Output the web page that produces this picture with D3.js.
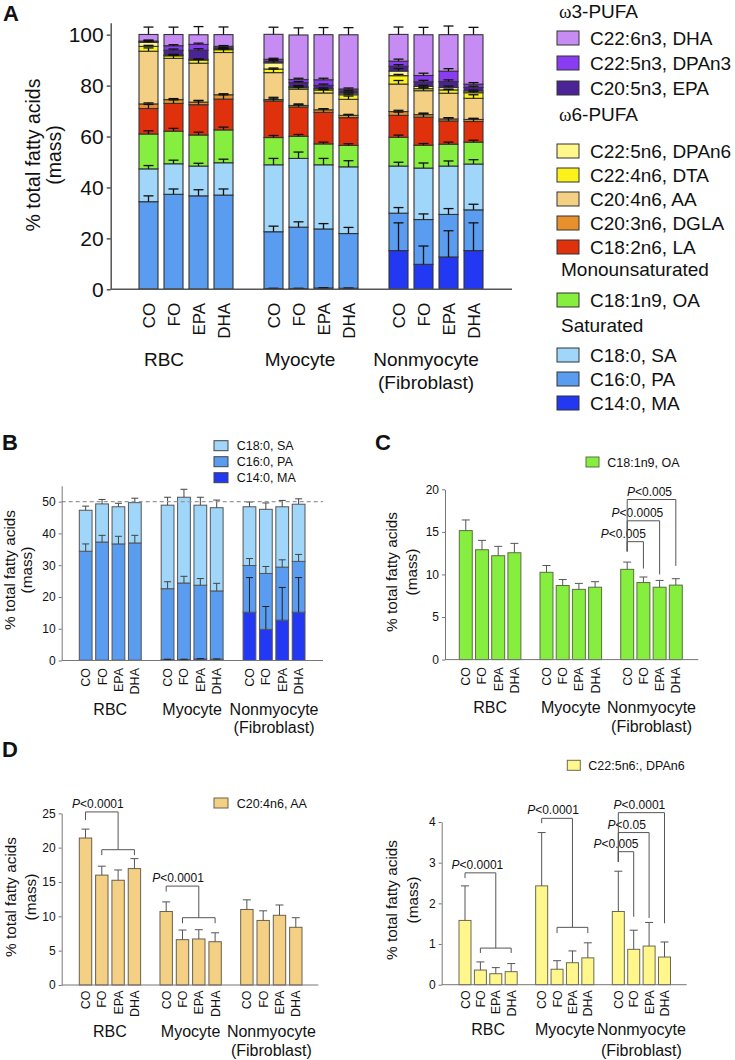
<!DOCTYPE html>
<html><head><meta charset="utf-8">
<script src="https://cdn.jsdelivr.net/npm/d3@7"></script>
<style>body{margin:0;background:#fff} svg{display:block}</style>
</head><body><svg id="c" width="735" height="1060"></svg>
<script>
// ---------------- DATA ----------------
const groups = ["RBC", "Myocyte", "Nonmyocyte"];
const groupLine2 = ["", "", "(Fibroblast)"];
const diets = ["CO", "FO", "EPA", "DHA"];
// 12 bars: RBC CO,FO,EPA,DHA | Myocyte CO,FO,EPA,DHA | Nonmyocyte CO,FO,EPA,DHA
// Saturated (panels A, B)
const MA = [0.1, 0.1, 0.1, 0.1, 0.3, 0.3, 0.5, 0.4, 15.2, 9.8, 12.7, 15.2];
const PA = [34.3, 37.2, 36.6, 36.9, 22.3, 24.1, 23.2, 21.5, 14.7, 17.6, 16.7, 16.0];
const SA = [12.9, 12.0, 11.7, 12.7, 26.3, 27.0, 25.2, 26.2, 18.5, 20.2, 19.0, 18.0];
const errMA = [0, 0, 0, 0, 0.1, 0.1, 0.1, 0.1, 10.9, 7.2, 10.3, 10.9];
const errPA = [2.3, 2.1, 2.4, 2.4, 2.2, 2.1, 2.1, 2.4, 2.2, 2.2, 2.3, 2.2];
const errSA = [1.3, 1.4, 1.1, 1.4, 2.5, 2.5, 2.5, 2.4, 1.5, 2.0, 2.0, 1.7];
// Panel A, remaining fatty acids
const OA_A = [13.7, 12.8, 12.2, 12.9, 10.7, 8.7, 8.2, 8.4, 11.3, 9.0, 8.6, 8.6];
const LA = [10.0, 10.9, 11.9, 12.1, 14.3, 11.5, 12.4, 10.9, 8.6, 11.0, 9.1, 8.1];
const DGLA = [1.8, 1.5, 1.0, 1.7, 0.6, 0.6, 1.0, 0.9, 1.5, 1.0, 0.8, 0.8];
const AA_A = [20.7, 16.2, 15.3, 16.6, 10.6, 6.4, 6.6, 6.3, 10.8, 9.4, 10.1, 8.3];
const DTA = [1.9, 1.0, 1.2, 1.1, 1.4, 0.6, 1.15, 1.8, 3.3, 0.8, 1.3, 2.2];
const EPA = [0.2, 1.8, 3.6, 0.4, 0.6, 1.6, 1.3, 0.8, 1.9, 1.8, 2.3, 1.4];
const DPAn3 = [0.3, 1.8, 2.3, 0.6, 0.8, 1.2, 2.2, 0.8, 2.0, 2.5, 4.1, 1.3];
const DHA = [2.6, 4.4, 3.8, 4.6, 9.8, 17.5, 17.7, 21.3, 10.5, 16.0, 14.35, 19.4];
const errOA_A = [1.25, 1.1, 1.1, 1.1, 0.8, 0.7, 0.7, 0.65, 0.85, 0.65, 0.8, 0.75];
const errLA = [1.6, 1.4, 1.7, 1.7, 1.5, 1.2, 1.4, 1.3, 1.3, 1.4, 1.3, 1.2];
const errDGLA = [0.4, 0.4, 0.5, 0.4, 0.3, 0.3, 0.4, 0.3, 0.5, 0.6, 0.4, 0.4];
const errAA_A = [1.3, 1.3, 1.5, 1.45, 1.4, 1.4, 1.35, 1.3, 1.4, 1.4, 1.5, 1.4];
const errDTA = [0.4, 0.3, 0.3, 0.3, 0.4, 0.2, 0.3, 0.3, 0.5, 0.3, 0.3, 0.4];
const errEPA = [0.2, 0.5, 0.6, 0.2, 0.3, 0.4, 0.5, 0.3, 0.6, 0.6, 0.7, 0.5];
const errDPAn3 = [0.3, 0.4, 0.5, 0.3, 0.4, 0.5, 0.6, 0.4, 0.8, 0.9, 1.0, 0.6];
const errDHA = [2.9, 2.9, 3.2, 3.0, 2.8, 2.8, 2.8, 2.8, 2.9, 2.9, 3.4, 2.9];
// Panel C
const OA = [15.15, 12.9, 12.2, 12.55, 10.25, 8.7, 8.25, 8.5, 10.6, 9.05, 8.5, 8.75];
const errOA = [1.25, 1.1, 1.1, 1.1, 0.8, 0.7, 0.7, 0.65, 0.85, 0.65, 0.8, 0.75];
// Panel D
const AA = [21.4, 16.0, 15.25, 16.95, 10.7, 6.6, 6.7, 6.3, 11.0, 9.4, 10.15, 8.4];
const errAA = [1.3, 1.3, 1.5, 1.45, 1.4, 1.4, 1.35, 1.3, 1.4, 1.4, 1.5, 1.4];
const DPAn6 = [1.58, 0.36, 0.27, 0.32, 2.43, 0.38, 0.54, 0.66, 1.8, 0.87, 0.95, 0.68];
const errDPAn6 = [0.85, 0.2, 0.15, 0.2, 1.31, 0.21, 0.29, 0.37, 0.99, 0.47, 0.58, 0.37];
// tick values
const ticksA = [0, 20, 40, 60, 80, 100];
const ticksB = [0, 10, 20, 30, 40, 50];
const ticksC = [0, 5, 10, 15, 20];
const ticksD1 = [0, 5, 10, 15, 20, 25];
const ticksD2 = [0, 1, 2, 3, 4];
// legend labels
const keysA = ["MA", "PA", "SA", "OA", "LA", "DGLA", "AA", "DTA", "DPAn6", "EPA", "DPAn3", "DHA"];
const labelsA = {DHA: "C22:6n3, DHA", DPAn3: "C22:5n3, DPAn3", EPA: "C20:5n3, EPA", DPAn6: "C22:5n6, DPAn6",
  DTA: "C22:4n6, DTA", AA: "C20:4n6, AA", DGLA: "C20:3n6, DGLA", LA: "C18:2n6, LA", OA: "C18:1n9, OA",
  SA: "C18:0, SA", PA: "C16:0, PA", MA: "C14:0, MA"};
const headers = ["ω3-PUFA", "ω6-PUFA", "Monounsaturated", "Saturated"];
const colors = {DHA: "#c68cf4", DPAn3: "#8a3cf2", EPA: "#4b2396", DPAn6: "#fff78c", DTA: "#fbf21c",
  AA: "#f3d083", DGLA: "#e8912c", LA: "#df310c", OA: "#86ee3e", SA: "#9fd6fa", PA: "#5a9cf0", MA: "#2238f2"};
// p-value brackets (y in data units)
const pC = [
  {g: 2, a: 0, b: 1, yh: 13.85, yl: 12.7, yr: 10.7, p: "0.005", dx: -12},
  {g: 2, a: 0, b: 2, yh: 16.3, yl: 12.7, yr: 10.0, p: "0.0005", dx: -6},
  {g: 2, a: 0, b: 3, yh: 18.8, yl: 12.7, yr: 11.0, p: "0.005", dx: -2}];
const pD1 = [
  {g: 0, yh: 25.2, yl: 24.0, ym: 19.7, yb: 18.9, p: "0.0001", dx: -4},
  {g: 1, yh: 14.4, yl: 13.6, ym: 9.8, yb: 9.0, p: "0.0001", dx: -4.5}];
const pD2grp = [
  {g: 0, yh: 2.75, yl: 2.62, ym: 0.9, yb: 0.78, p: "0.0001", dx: -3},
  {g: 1, yh: 4.09, yl: 3.97, ym: 1.41, yb: 1.27, p: "0.0001", dx: -4}];
const pD2 = [
  {g: 2, a: 0, b: 1, yh: 3.27, yl: 3.02, yr: 1.67, p: "0.005", dx: -10},
  {g: 2, a: 0, b: 2, yh: 3.74, yl: 3.02, yr: 1.64, p: "0.05", dx: -7},
  {g: 2, a: 0, b: 3, yh: 4.23, yl: 3.02, yr: 1.51, p: "0.0001", dx: -2}];

// ---------------- DRAWING ----------------
const FONT = '"Liberation Sans", Arial, Helvetica, sans-serif';
const svg = d3.select("#c");
svg.append("rect").attr("width", 735).attr("height", 1060).attr("fill", "#fff");

function makeX(range, p1, p2) {
  const gx = d3.scaleBand().domain(groups).range(range).paddingInner(p1).paddingOuter(0);
  const dx = d3.scaleBand().domain(diets).range([0, gx.bandwidth()]).paddingInner(p2).paddingOuter(0);
  const xOf = i => gx(groups[Math.floor(i / 4)]) + dx(diets[i % 4]);
  return {gx, dx, xOf, w: dx.bandwidth(), cx: i => xOf(i) + dx.bandwidth() / 2};
}
function yAxis(y, x0, ticks, o) {
  const g = svg.append("g").attr("transform", `translate(${x0},0)`)
    .call(d3.axisLeft(y).tickValues(ticks).tickFormat(d3.format("d")).tickSize(o.ts).tickPadding(o.pad).tickSizeOuter(0));
  g.select(".domain").attr("stroke", o.color).attr("stroke-width", o.sw);
  g.selectAll(".tick line").attr("stroke", o.color).attr("stroke-width", o.sw);
  g.selectAll(".tick text").attr("font-size", o.fs).attr("font-family", FONT).attr("fill", "#111");
}
function xLine(x0, x1, yy, color, sw) {
  svg.append("line").attr("x1", x0).attr("x2", x1).attr("y1", yy).attr("y2", yy)
    .attr("stroke", color).attr("stroke-width", sw);
}
function txt(x, y, s, fs, o = {}) {
  return svg.append("text").attr("x", x).attr("y", y).text(s).attr("font-size", fs)
    .attr("font-family", FONT).attr("fill", o.fill || "#111").attr("text-anchor", o.anchor || "start")
    .attr("font-weight", o.weight || "normal");
}
function yTitle(cx1, cx2, cy, fs) {
  txt(0, 0, "% total fatty acids", fs, {anchor: "middle"}).attr("transform", `translate(${cx1},${cy}) rotate(-90)`).attr("dy", "0.35em");
  txt(0, 0, "(mass)", fs, {anchor: "middle"}).attr("transform", `translate(${cx2},${cy}) rotate(-90)`).attr("dy", "0.35em");
}
function xLabels(X, y0, gap, fs) {
  d3.range(12).forEach(i => {
    txt(0, 0, diets[i % 4], fs, {anchor: "end"}).attr("dy", "0.36em")
      .attr("transform", `translate(${X.cx(i)},${y0 + gap}) rotate(-90)`);
  });
}
function groupLabels(X, offs, y1, y2, fs) {
  groups.forEach((g, k) => {
    const c = X.gx(g) + X.gx.bandwidth() / 2 + offs[k];
    txt(c, y1, g, fs, {anchor: "middle"});
    if (groupLine2[k]) txt(c, y2, groupLine2[k], fs, {anchor: "middle"});
  });
}
function errBars(X, y, tops, errs, cap, color, sw) {
  tops.forEach((t, i) => {
    if (!errs[i]) return;
    const cx = X.cx(i), y1 = y(t), y2 = y(t + errs[i]);
    svg.append("line").attr("x1", cx).attr("x2", cx).attr("y1", y1).attr("y2", y2).attr("stroke", color).attr("stroke-width", sw);
    svg.append("line").attr("x1", cx - cap / 2).attr("x2", cx + cap / 2).attr("y1", y2).attr("y2", y2).attr("stroke", color).attr("stroke-width", sw);
  });
}
function pText(x, y, p, fs) {
  const t = svg.append("text").attr("x", x).attr("y", y).attr("font-size", fs).attr("font-family", FONT)
    .attr("fill", "#111").attr("text-anchor", "middle");
  t.append("tspan").attr("font-style", "italic").text("P");
  t.append("tspan").text("<" + p);
}
function path(pts, color) {
  svg.append("path").attr("d", d3.line()(pts)).attr("fill", "none").attr("stroke", color).attr("stroke-width", 1);
}
function pairBrackets(X, y, list, fs, color) {
  list.forEach(b => {
    const xa = X.cx(b.g * 4 + b.a), xb = X.cx(b.g * 4 + b.b);
    path([[xa, y(b.yl)], [xa, y(b.yh)], [xb, y(b.yh)], [xb, y(b.yr)]], color);
    pText((xa + xb) / 2 + b.dx, y(b.yh) - 4, b.p, fs);
  });
}
function groupBrackets(X, y, list, fs, color) {
  list.forEach(b => {
    const xa = X.cx(b.g * 4), x1 = X.cx(b.g * 4 + 1), x3 = X.cx(b.g * 4 + 3), xm = (x1 + x3) / 2;
    path([[xa, y(b.yl)], [xa, y(b.yh)], [xm, y(b.yh)], [xm, y(b.ym)]], color);
    path([[x1, y(b.yb)], [x1, y(b.ym)], [x3, y(b.ym)], [x3, y(b.yb)]], color);
    pText((xa + xm) / 2 + b.dx, y(b.yh) - 4, b.p, fs);
  });
}
function swatch(x, yc, w, h, fill, stroke) {
  svg.append("rect").attr("x", x).attr("y", yc - h / 2).attr("width", w).attr("height", h)
    .attr("fill", fill).attr("stroke", stroke).attr("stroke-width", 1);
}

// ---------- Panel A ----------
txt(3, 21, "A", 22, {weight: "bold"});
const XA = makeX([139, 483], 0.248, 0.24);
const yA = d3.scaleLinear().domain([0, 104.7]).range([289.3, 22.7]);
const vals = {MA, PA, SA, OA: OA_A, LA, DGLA, AA: AA_A, DTA, DPAn6, EPA, DPAn3, DHA};
const errs = {MA: errMA, PA: errPA, SA: errSA, OA: errOA_A, LA: errLA, DGLA: errDGLA, AA: errAA_A,
  DTA: errDTA, DPAn6: errDPAn6, EPA: errEPA, DPAn3: errDPAn3, DHA: errDHA};
const rowsA = d3.range(12).map(i => Object.fromEntries(keysA.map(k => [k, vals[k][i]])));
const stackA = d3.stack().keys(keysA)(rowsA);
stackA.forEach(s => {
  svg.append("g").selectAll("rect").data(s).join("rect")
    .attr("x", (d, i) => XA.xOf(i)).attr("width", XA.w)
    .attr("y", d => yA(d[1])).attr("height", d => yA(d[0]) - yA(d[1]))
    .attr("fill", colors[s.key]).attr("stroke", "#333").attr("stroke-width", 1.1);
});
stackA.forEach(s => errBars(XA, yA, s.map(d => d[1]), errs[s.key], 10, "#111", 1.3));
yAxis(yA, 110.7, ticksA, {ts: 4, pad: 3, color: "#555", sw: 1.5, fs: 21});
xLine(110.7, 512, 289.3, "#555", 1.5);
yTitle(33, 54, 155, 19.5);
xLabels(XA, 289.3, 13.5, 17);
groupLabels(XA, [-22, -11, -10], 366, 389, 19);
// legend A
const legA = [
  {h: 0, y: 18}, {k: "DHA", y: 38}, {k: "DPAn3", y: 63}, {k: "EPA", y: 88},
  {h: 1, y: 121}, {k: "DPAn6", y: 151}, {k: "DTA", y: 175}, {k: "AA", y: 199}, {k: "DGLA", y: 223}, {k: "LA", y: 247},
  {h: 2, y: 276}, {k: "OA", y: 300},
  {h: 3, y: 332}, {k: "SA", y: 355}, {k: "PA", y: 379}, {k: "MA", y: 403}];
legA.forEach(e => {
  if (e.h !== undefined) {
    const s = headers[e.h];
    if (s.startsWith("ω")) {
      const t = txt(559, e.y, "", 19);
      t.append("tspan").attr("font-family", '"Liberation Serif", "Times New Roman", serif').text("ω");
      t.append("tspan").text(s.slice(1));
    } else txt(561, e.y, s, 19);
  } else {
    swatch(557, e.y, 22, 14, colors[e.k], "#333");
    txt(590, e.y + 7, labelsA[e.k], 19);
  }
});

// ---------- Panel B ----------
txt(2, 450, "B", 22, {weight: "bold"});
const XB = makeX([79.3, 305], 0.244, 0.22);
const yB = d3.scaleLinear().domain([0, 55]).range([660.5, 485.8]);
const keysB = ["MA", "PA", "SA"];
const rowsB = d3.range(12).map(i => ({MA: MA[i], PA: PA[i], SA: SA[i]}));
const stackB = d3.stack().keys(keysB)(rowsB);
stackB.forEach(s => {
  svg.append("g").selectAll("rect").data(s).join("rect")
    .attr("x", (d, i) => XB.xOf(i)).attr("width", XB.w)
    .attr("y", d => yB(d[1])).attr("height", d => yB(d[0]) - yB(d[1]))
    .attr("fill", colors[s.key]).attr("stroke", "#555").attr("stroke-width", 1);
});
stackB.forEach((s, k) => errBars(XB, yB, s.map(d => d[1]), [errMA, errPA, errSA][k], 7, k === 0 ? "#222" : "#444", 1));
svg.append("line").attr("x1", 61.7).attr("x2", 323).attr("y1", yB(50)).attr("y2", yB(50))
  .attr("stroke", "#999").attr("stroke-width", 1.2).attr("stroke-dasharray", "4,3");
yAxis(yB, 61.7, ticksB, {ts: 3, pad: 3, color: "#777", sw: 1, fs: 12});
xLine(61.7, 323, 660.5, "#777", 1);
yTitle(10, 27, 570, 15.3);
xLabels(XB, 660.5, 7.5, 12.5);
groupLabels(XB, [0, 0, 0], 715, 733, 16);
[["SA", 445.7], ["PA", 461.7], ["MA", 477.7]].forEach(([k, yy]) => {
  swatch(214, yy, 14, 10, colors[k], "#444");
  txt(236.7, yy + 4.5, labelsA[k], 12.5);
});

// ---------- Panel C ----------
txt(375, 450, "C", 22, {weight: "bold"});
const XC = makeX([459.3, 682.3], 0.237, 0.2);
const yC = d3.scaleLinear().domain([0, 20]).range([659.6, 489.3]);
svg.append("g").selectAll("rect").data(OA).join("rect")
  .attr("x", (d, i) => XC.xOf(i)).attr("width", XC.w)
  .attr("y", d => yC(d)).attr("height", d => yC(0) - yC(d))
  .attr("fill", colors.OA).attr("stroke", "#5b7040").attr("stroke-width", 1);
errBars(XC, yC, OA, errOA, 8, "#555", 1);
yAxis(yC, 445, ticksC, {ts: 3, pad: 3, color: "#777", sw: 1, fs: 12});
xLine(445, 698.3, 659.6, "#777", 1);
yTitle(391.5, 411.5, 572, 15.3);
xLabels(XC, 659.6, 7.5, 12.5);
groupLabels(XC, [0, 0, 0], 713.3, 731.7, 16);
swatch(586, 462, 13, 10, colors.OA, "#5b7040");
txt(607.3, 466.5, labelsA.OA, 12.5);
pairBrackets(XC, yC, pC, 12, "#555");

// ---------- Panel D ----------
txt(2, 757, "D", 22, {weight: "bold"});
const XD1 = makeX([79.3, 302], 0.24, 0.24);
const yD1 = d3.scaleLinear().domain([0, 25]).range([985, 813.3]);
svg.append("g").selectAll("rect").data(AA).join("rect")
  .attr("x", (d, i) => XD1.xOf(i)).attr("width", XD1.w)
  .attr("y", d => yD1(d)).attr("height", d => yD1(0) - yD1(d))
  .attr("fill", colors.AA).attr("stroke", "#6a6050").attr("stroke-width", 1);
errBars(XD1, yD1, AA, errAA, 8, "#555", 1);
yAxis(yD1, 61.7, ticksD1, {ts: 3, pad: 3, color: "#777", sw: 1, fs: 12});
xLine(61.7, 318.3, 985, "#777", 1);
yTitle(10.5, 30.8, 897, 15.3);
xLabels(XD1, 985, 5.5, 12.5);
groupLabels(XD1, [0, 0, 0], 1036.7, 1055.7, 16);
swatch(214, 803, 14, 10, colors.AA, "#6a6050");
txt(236.7, 807.5, labelsA.AA, 12.5);
groupBrackets(XD1, yD1, pD1, 12, "#555");

const XD2 = makeX([459, 670.5], 0.241, 0.22);
const yD2 = d3.scaleLinear().domain([0, 4]).range([984.7, 822]);
svg.append("g").selectAll("rect").data(DPAn6).join("rect")
  .attr("x", (d, i) => XD2.xOf(i)).attr("width", XD2.w)
  .attr("y", d => yD2(d)).attr("height", d => yD2(0) - yD2(d))
  .attr("fill", colors.DPAn6).attr("stroke", "#6a6a50").attr("stroke-width", 1);
errBars(XD2, yD2, DPAn6, errDPAn6, 8, "#555", 1);
yAxis(yD2, 441.7, ticksD2, {ts: 3, pad: 3, color: "#777", sw: 1, fs: 12});
xLine(441.7, 686.7, 984.7, "#777", 1);
yTitle(392, 412.5, 900, 15.3);
xLabels(XD2, 984.7, 5.5, 12.5);
groupLabels(XD2, [0, 0, 0], 1035, 1055.7, 16);
swatch(567.3, 765.3, 13, 10, colors.DPAn6, "#6a6a50");
txt(588.3, 769.8, "C22:5n6:, DPAn6", 12.5);
groupBrackets(XD2, yD2, pD2grp, 12, "#555");
pairBrackets(XD2, yD2, pD2, 12, "#555");
</script></body></html>
